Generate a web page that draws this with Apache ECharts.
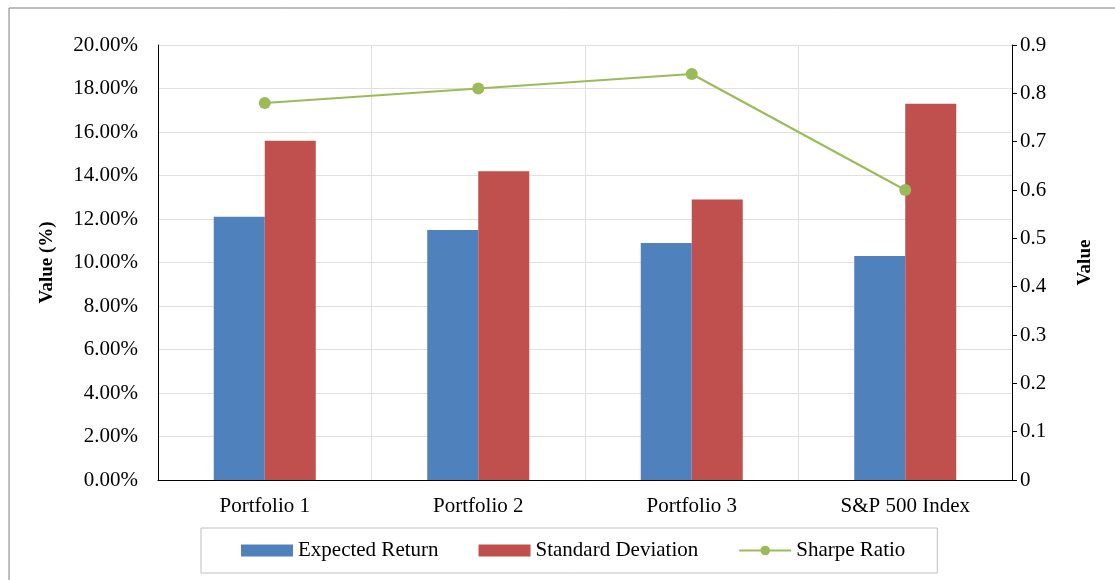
<!DOCTYPE html>
<html>
<head>
<meta charset="utf-8">
<script src="https://cdn.jsdelivr.net/npm/echarts@6/dist/echarts.min.js"></script>
<style>
  html, body { margin: 0; padding: 0; background: #fff; }
  #chart { width: 1115px; height: 580px; }
</style>
</head>
<body>
<div id="chart"></div>
<script>
// Portfolio comparison: return and risk (left axis, %) and Sharpe ratio (right axis)
const categories = ['Portfolio 1', 'Portfolio 2', 'Portfolio 3', 'S&P 500 Index'];
const expectedReturn = [12.1, 11.5, 10.9, 10.3];
const standardDeviation = [15.6, 14.2, 12.9, 17.3];
const sharpeRatio = [0.78, 0.81, 0.84, 0.60];

const FONT = '"Liberation Serif", "Times New Roman", serif';
const chart = echarts.init(document.getElementById('chart'));

chart.setOption({
  animation: false,
  textStyle: { fontFamily: FONT, color: '#000' },
  graphic: [{
    type: 'rect',
    shape: { x: 9, y: 8, width: 1300, height: 800 },
    style: { fill: 'none', stroke: '#7f7f7f', lineWidth: 1 },
    silent: true
  }],
  grid: { left: 158, right: 103, top: 45, bottom: 100 },
  legend: {
    left: 201,
    top: 528,
    padding: [12, 32, 12, 40],
    itemGap: 40,
    itemWidth: 52,
    itemHeight: 12,
    borderColor: '#bfbfbf',
    borderWidth: 1,
    textStyle: { fontFamily: FONT, fontSize: 21, color: '#000' },
    data: [
      { name: 'Expected Return', icon: 'rect' },
      { name: 'Standard Deviation', icon: 'rect' },
      { name: 'Sharpe Ratio' }
    ]
  },
  xAxis: {
    type: 'category',
    data: categories,
    axisLine: { lineStyle: { color: '#000', width: 1 } },
    axisTick: { show: false },
    axisLabel: { fontFamily: FONT, fontSize: 21, color: '#000', margin: 16 },
    splitLine: { show: true, lineStyle: { color: '#e0e0e0', width: 1 } }
  },
  yAxis: [{
    type: 'value',
    min: 0,
    max: 20,
    interval: 2,
    name: 'Value (%)',
    nameLocation: 'middle',
    nameGap: 101,
    nameTextStyle: { fontFamily: FONT, fontSize: 19, fontWeight: 'bold', color: '#000' },
    axisLine: { show: true, lineStyle: { color: '#000', width: 1 } },
    axisTick: { show: false },
    axisLabel: {
      fontFamily: FONT, fontSize: 21, color: '#000', margin: 20,
      formatter: v => v.toFixed(2) + '%'
    },
    splitLine: { show: true, lineStyle: { color: '#e0e0e0', width: 1 } }
  }, {
    type: 'value',
    min: 0,
    max: 0.9,
    interval: 0.1,
    position: 'right',
    name: 'Value',
    nameLocation: 'middle',
    nameGap: 64,
    nameTextStyle: { fontFamily: FONT, fontSize: 19, fontWeight: 'bold', color: '#000' },
    axisLine: { show: true, lineStyle: { color: '#000', width: 1 } },
    axisTick: { show: true, length: 5, lineStyle: { color: '#000' } },
    axisLabel: {
      fontFamily: FONT, fontSize: 21, color: '#000', margin: 8,
      formatter: v => (v === 0 ? '0' : v.toFixed(1))
    },
    splitLine: { show: false }
  }],
  series: [{
    name: 'Expected Return',
    type: 'bar',
    data: expectedReturn,
    barWidth: 51,
    barGap: '0%',
    itemStyle: { color: '#4f81bd' }
  }, {
    name: 'Standard Deviation',
    type: 'bar',
    data: standardDeviation,
    barWidth: 51,
    barGap: '0%',
    itemStyle: { color: '#c0504d' }
  }, {
    name: 'Sharpe Ratio',
    type: 'line',
    yAxisIndex: 1,
    data: sharpeRatio,
    symbol: 'circle',
    symbolSize: 12,
    lineStyle: { color: '#9bbb59', width: 2 },
    itemStyle: { color: '#9bbb59' }
  }]
});
</script>
</body>
</html>
